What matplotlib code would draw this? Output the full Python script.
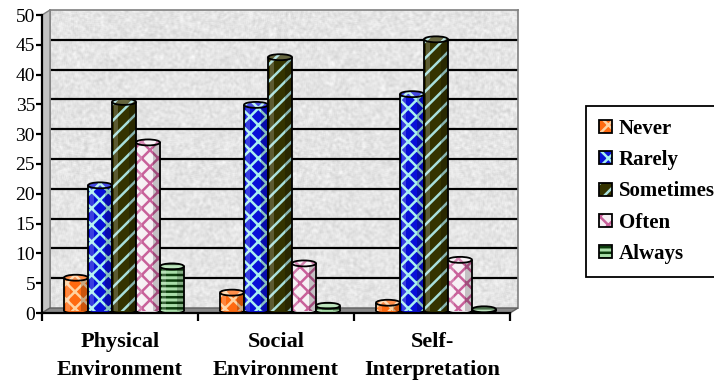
import numpy as np
import matplotlib
matplotlib.use("Agg")
import matplotlib.pyplot as plt
from matplotlib.patches import Rectangle, Ellipse, Polygon, Patch
from matplotlib.transforms import ScaledTranslation

plt.rcParams["font.family"] = ["Liberation Serif", "DejaVu Serif"]
plt.rcParams["hatch.linewidth"] = 1.8

groups = ["Physical\nEnvironment", "Social\nEnvironment", "Self-\nInterpretation"]
series = ["Never", "Rarely", "Sometimes", "Often", "Always"]
never = [5.5, 3.0, 1.3]
rarely = [21.0, 34.5, 36.3]
sometimes = [35.0, 42.5, 45.5]
often = [28.2, 7.9, 8.5]
always = [7.4, 0.8, 0.2]
values = [never, rarely, sometimes, often, always]

# face colour, hatch colour, hatch pattern for each series
faces = ["#ff6a10", "#0a10d8", "#343300", "#f6f0f4", "#a8dca8"]
hatch_cols = ["#ffd2a0", "#a8f0f0", "#a8e0dc", "#c8609a", "#0c3c0c"]
hatches = ["xx", "xx", "//", "xx", "---"]

W, H = 714, 381
fig = plt.figure(figsize=(W / 100, H / 100), dpi=100)

def box(l, t, r, b):
    return [l / W, 1 - b / H, (r - l) / W, (b - t) / H]

# front plane (axis) and back wall, offset for the 3-D depth
dx, dy = 8, 5
ax = fig.add_axes(box(42, 15, 510, 313))
wall = fig.add_axes(box(42 + dx, 15 - dy, 510 + dx, 313 - dy), zorder=0)
ax.set_zorder(1)

# granite-like texture on the back wall
rng = np.random.default_rng(3)
noise = rng.random((300, 470))
k = np.ones(3) / 3
noise = np.apply_along_axis(lambda r: np.convolve(r, k, mode="same"), 1, noise)
noise = np.apply_along_axis(lambda c: np.convolve(c, k, mode="same"), 0, noise)
noise = (noise - noise.min()) / (noise.max() - noise.min())
tex = 0.80 + 0.19 * noise
wall.imshow(tex, cmap="gray", vmin=0, vmax=1, extent=(0, 3, 0, 50),
            aspect="auto", interpolation="bilinear")
wall.set_xlim(0, 3)
wall.set_ylim(0, 50)
for y in range(5, 50, 5):
    wall.axhline(y, color="black", lw=1.6)
for s in wall.spines.values():
    s.set_color("#808080")
    s.set_linewidth(1.2)
wall.spines["bottom"].set_visible(False)
wall.set_xticks([])
wall.set_yticks([])

# side wall and floor
def px(x, y):
    return (x / W, 1 - y / H)

side = Polygon([px(42, 313), px(42, 15), px(42 + dx, 15 - dy), px(42 + dx, 313 - dy)],
               closed=True, transform=fig.transFigure, facecolor="#c4c4c4",
               edgecolor="#808080", lw=1, zorder=0.5)
floor = Polygon([px(42, 313), px(510, 313), px(510 + dx, 313 - dy), px(42 + dx, 313 - dy)],
                closed=True, transform=fig.transFigure, facecolor="#8a8a8a",
                edgecolor="#606060", lw=1, zorder=0.5)
fig.patches.extend([side, floor])

ax.set_xlim(0, 3)
ax.set_ylim(0, 50)
ax.patch.set_alpha(0)
for s in ["top", "right"]:
    ax.spines[s].set_visible(False)
for s in ["left", "bottom"]:
    ax.spines[s].set_linewidth(1.6)

# cylinders sit half way into the depth
trans = ax.transData + ScaledTranslation(dx / 2 / 100, dy / 2 / 100, fig.dpi_scale_trans)
bw = 24 / 156
cap = 1.0
x = np.arange(len(groups)) + 0.5
for i, (vals, fc, hc, ht) in enumerate(zip(values, faces, hatch_cols, hatches)):
    xs = x + (i - 2) * bw
    for xc, v in zip(xs, vals):
        l = xc - bw / 2
        z = 2 + i * 0.1
        ax.add_patch(Ellipse((xc, 0), bw, cap, facecolor=fc, edgecolor="black",
                             lw=1.3, transform=trans, zorder=z))
        ax.add_patch(Rectangle((l, 0), bw, v, facecolor=fc, edgecolor=hc, hatch=ht,
                               lw=0, transform=trans, zorder=z))
        ax.add_patch(Rectangle((l + bw * 0.7, 0), bw * 0.3, v, facecolor="black",
                               alpha=0.2, lw=0, transform=trans, zorder=z))
        ax.add_patch(Rectangle((l + bw * 0.08, 0), bw * 0.18, v, facecolor="white",
                               alpha=0.2, lw=0, transform=trans, zorder=z))
        ax.vlines([l, l + bw], 0, v, color="black", lw=1.3, transform=trans, zorder=z)
        ax.add_patch(Ellipse((xc, v), bw, cap, facecolor=fc, edgecolor=hc, hatch=ht,
                             lw=0, transform=trans, zorder=z))
        ax.add_patch(Ellipse((xc, v), bw, cap, facecolor="white", alpha=0.25,
                             edgecolor="none", transform=trans, zorder=z))
        ax.add_patch(Ellipse((xc, v), bw, cap, facecolor="none", edgecolor="black",
                             lw=1.3, transform=trans, zorder=z))

ax.set_yticks(range(0, 51, 5))
ax.tick_params(axis="y", direction="out", length=4, width=1.6, labelsize=14, pad=1)
ax.set_xticks(range(len(groups) + 1))
ax.set_xticklabels([])
ax.tick_params(axis="x", which="major", direction="out", length=6, width=1.6)
ax.set_xticks(x, minor=True)
ax.set_xticklabels(groups, minor=True, fontweight="bold", fontsize=16, linespacing=1.5)
ax.tick_params(axis="x", which="minor", length=0, pad=14)

handles = []
for fc, hc, ht in zip(faces, hatch_cols, hatches):
    handles.append((Patch(facecolor=fc, edgecolor=hc, hatch=ht, lw=0),
                    Patch(facecolor="none", edgecolor="black", lw=1.3)))
leg = fig.legend(handles, series, loc="upper left", bbox_to_anchor=(586 / W, 1 - 106 / H),
                 prop={"weight": "bold", "size": 15}, frameon=True, fancybox=False,
                 edgecolor="black", framealpha=1, handlelength=0.67, handleheight=0.58,
                 handletextpad=0.29, labelspacing=0.55, borderpad=0.6, borderaxespad=0)
leg.get_frame().set_linewidth(1.3)

fig.savefig("out.png", dpi=100)
